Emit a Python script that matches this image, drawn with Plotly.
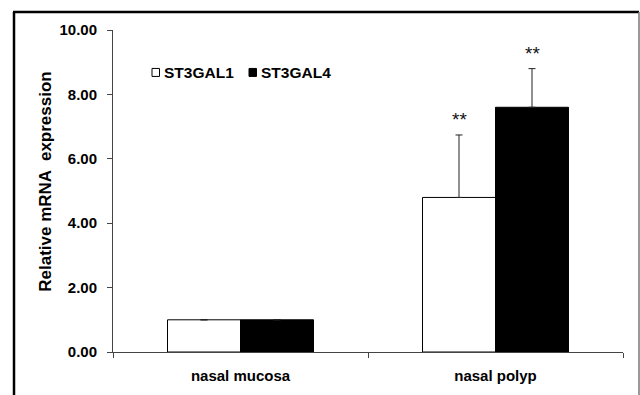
import plotly.graph_objects as go

# Relative mRNA expression (mean, upper SD) by tissue type
categories = ["nasal mucosa", "nasal polyp"]
series_names = ["ST3GAL1", "ST3GAL4"]
st3gal1_mean = [1.00, 4.80]
st3gal1_err = [0.0, 1.94]
st3gal4_mean = [1.00, 7.60]
st3gal4_err = [0.0, 1.20]
significance = ["", "**"]
y_ticks = [0, 2, 4, 6, 8, 10]
y_title = "Relative mRNA  expression"

W, H = 640, 395
L, R, T, B = 113, 17, 30, 42.5
BARGAP = 0.4275
FONT = "Liberation Sans, Arial, sans-serif"

plot_w = W - L - R
plot_h = H - T - B


def px_to_paper(x=None, y=None):
    """Convert page pixels to paper coordinates of the plot area."""
    out = []
    if x is not None:
        out.append((x - L) / plot_w)
    if y is not None:
        out.append((H - B - y) / plot_h)
    return out[0] if len(out) == 1 else tuple(out)


fig = go.Figure()
fills = ["white", "black"]
means = [st3gal1_mean, st3gal4_mean]
errs = [st3gal1_err, st3gal4_err]
for name, fill, m, e in zip(series_names, fills, means, errs):
    fig.add_trace(go.Bar(
        name=name, x=categories, y=m,
        marker=dict(color=fill, line=dict(color="black", width=1)),
        error_y=dict(type="data", array=e, arrayminus=[0] * len(e),
                     symmetric=False, color="#222", thickness=1, width=3.5,
                     visible=True),
        showlegend=False,
    ))

# significance stars above each error bar
bar_w = (1 - BARGAP) / 2
for s, (m, e) in enumerate(zip(means, errs)):
    offset = (s - 0.5) * bar_w
    for i, mark in enumerate(significance):
        if not mark:
            continue
        fig.add_annotation(
            x=i + offset, y=m[i] + e[i], xref="x", yref="y",
            text=mark, showarrow=False, yanchor="middle", yshift=15,
            font=dict(family=FONT, size=19, color="#111"),
        )

# legend key: small squares with labels
key_y = 72.5
key_items = [(152, series_names[0], "white"), (249, series_names[1], "black")]
for kx, label, fill in key_items:
    x0 = px_to_paper(x=kx)
    x1 = px_to_paper(x=kx + 7.5)
    y0 = px_to_paper(y=key_y + 4)
    y1 = px_to_paper(y=key_y - 4)
    fig.add_shape(type="rect", xref="paper", yref="paper",
                  x0=x0, x1=x1, y0=y0, y1=y1,
                  fillcolor=fill, line=dict(color="black", width=1))
    fig.add_annotation(x=px_to_paper(x=kx + 10), y=px_to_paper(y=key_y + 0.5),
                       xref="paper", yref="paper", text=label, showarrow=False,
                       xanchor="left", yanchor="middle",
                       font=dict(family=FONT, size=15.5, color="black", weight="bold"))

# rotated y-axis title
fig.add_annotation(x=px_to_paper(x=45.5), y=px_to_paper(y=182.5),
                   xref="paper", yref="paper", text=y_title, textangle=-90,
                   showarrow=False, xanchor="center", yanchor="middle",
                   font=dict(family=FONT, size=17, color="black", weight="bold"))

# outer frame around the figure
fl, fr = px_to_paper(x=14), px_to_paper(x=639)
ft, fb = px_to_paper(y=12), px_to_paper(y=410)
fig.add_shape(type="line", xref="paper", yref="paper", x0=fl, x1=fl, y0=fb, y1=ft,
              line=dict(color="black", width=2.5))
fig.add_shape(type="line", xref="paper", yref="paper", x0=fl - 0.002, x1=fr, y0=ft, y1=ft,
              line=dict(color="black", width=2.5))
fig.add_shape(type="line", xref="paper", yref="paper", x0=fr, x1=fr, y0=fb, y1=ft,
              line=dict(color="#777", width=1.5))

fig.update_layout(
    width=W, height=H,
    margin=dict(l=L, r=R, t=T, b=B, pad=0),
    paper_bgcolor="white", plot_bgcolor="white",
    barmode="group", bargap=BARGAP, bargroupgap=0,
    font=dict(family=FONT, color="black"),
    showlegend=False,
)
fig.update_xaxes(
    type="category", range=[-0.5, 1.5],
    showline=True, linecolor="#444", linewidth=1,
    ticks="outside", ticklen=5, tickcolor="#444", tickwidth=1,
    tickson="boundaries", ticklabelstandoff=10,
    tickfont=dict(family=FONT, size=15, color="black", weight="bold"),
    showgrid=False, zeroline=False,
)
fig.update_yaxes(
    range=[0, 10], tickvals=y_ticks, tickformat=".2f",
    showline=True, linecolor="#444", linewidth=1,
    ticks="outside", ticklen=5, tickcolor="#444", tickwidth=1,
    ticklabelstandoff=7,
    tickfont=dict(family=FONT, size=15, color="black", weight="bold"),
    showgrid=False, zeroline=False,
)

fig.write_html("out.html")
